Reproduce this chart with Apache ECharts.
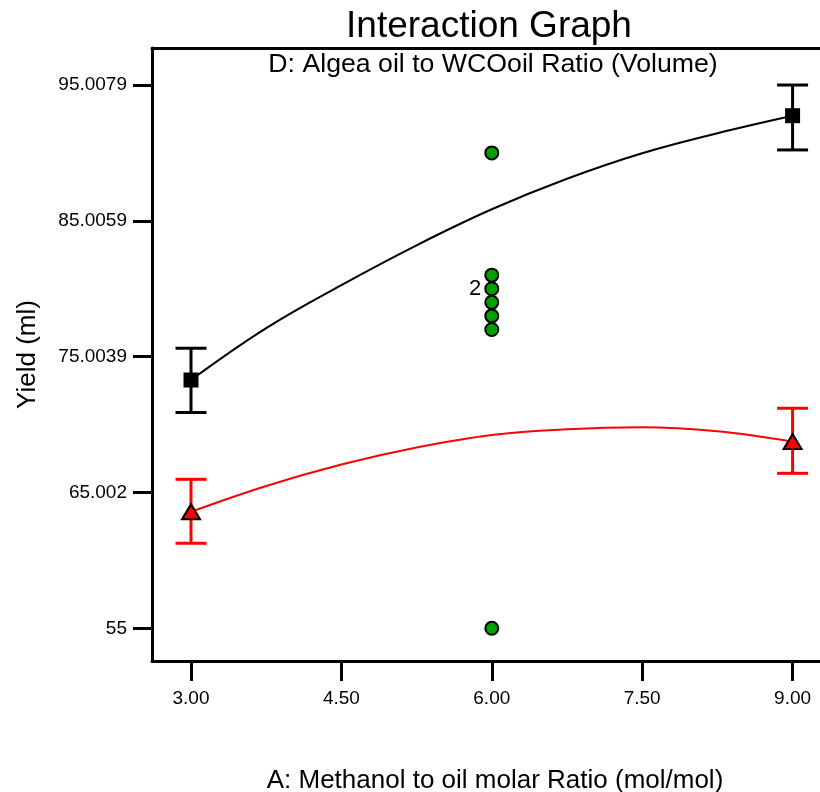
<!DOCTYPE html>
<html><head><meta charset="utf-8">
<script src="https://cdn.jsdelivr.net/npm/echarts@6/dist/echarts.min.js"></script>
<style>html,body{margin:0;padding:0;background:#fff}#c{width:820px;height:792px}</style>
</head><body><div id="c"></div>
<script>
// ---- data ----
const xTickValues = [3, 4.5, 6, 7.5, 9];
const xTickLabels = ['3.00', '4.50', '6.00', '7.50', '9.00'];
const yTickValues = [55, 65.002, 75.0039, 85.0059, 95.0079];
const yTickLabels = ['55', '65.002', '75.0039', '85.0059', '95.0079'];

const curveX = [3, 3.75, 4.5, 5.25, 6, 6.75, 7.5, 8.25, 9];
const curveHighD = [73.28, 77.1, 80.27, 83.2, 85.85, 88.1, 89.98, 91.45, 92.74];
const curveLowD = [63.58, 65.48, 67.06, 68.31, 69.23, 69.65, 69.8, 69.5, 68.74];

const levelX = [3, 9];
const meanHighD = [73.28, 92.74];
const barHighD = [[70.89, 75.62], [90.22, 95.0]];
const meanLowD = [63.58, 68.74];
const barLowD = [[61.26, 65.97], [66.41, 71.2]];

const designX = [6, 6, 6, 6, 6, 6, 6];
const designY = [90, 81, 80, 79, 78, 77, 55];
const designCount = [1, 1, 2, 1, 1, 1, 1];

// ---- chart ----
const FONT = '"Liberation Sans", Arial, sans-serif';
const chart = echarts.init(document.getElementById('c'), null, {renderer: 'canvas'});

function labelFor(values, labels) {
  return function (v) {
    let best = 0, bd = Infinity;
    values.forEach((t, i) => { const d = Math.abs(t - v); if (d < bd) { bd = d; best = i; } });
    return labels[best];
  };
}

function errorBarSeries(levels, bars, color) {
  return {
    type: 'custom',
    z: 3,
    data: levels.map((x, i) => [x, bars[i][0], bars[i][1]]),
    encode: {x: 0, y: [1, 2]},
    renderItem: function (params, api) {
      const x = api.value(0), lo = api.value(1), hi = api.value(2);
      const pLo = api.coord([x, lo]), pHi = api.coord([x, hi]);
      const hw = 15.5;
      const st = {stroke: color, lineWidth: 3};
      return {
        type: 'group',
        children: [
          {type: 'line', shape: {x1: pLo[0], y1: pLo[1], x2: pHi[0], y2: pHi[1]}, style: st},
          {type: 'line', shape: {x1: pLo[0] - hw, y1: pLo[1], x2: pLo[0] + hw, y2: pLo[1]}, style: st},
          {type: 'line', shape: {x1: pHi[0] - hw, y1: pHi[1], x2: pHi[0] + hw, y2: pHi[1]}, style: st}
        ]
      };
    }
  };
}

const option = {
  animation: false,
  backgroundColor: '#fff',
  textStyle: {fontFamily: FONT},
  graphic: [
    {type: 'text', x: 489, y: 27, style: {text: 'Interaction Graph', font: '37px ' + FONT, fill: '#000', textAlign: 'center', textVerticalAlign: 'middle'}},
    {type: 'text', x: 493, y: 65, style: {text: 'D: Algea oil to WCOoil Ratio (Volume)', font: '26.7px ' + FONT, fill: '#000', textAlign: 'center', textVerticalAlign: 'middle'}}
  ],
  grid: {left: 152, top: 48, width: 686, height: 613, containLabel: false, outerBoundsMode: 'none'},
  xAxis: [{
    type: 'value', min: 2.611, max: 9.453, position: 'bottom',
    name: 'A: Methanol to oil molar Ratio (mol/mol)', nameLocation: 'middle', nameGap: 107,
    nameTextStyle: {fontSize: 26, color: '#000', fontFamily: FONT},
    axisLine: {show: true, onZero: false, lineStyle: {color: '#000', width: 3}},
    axisTick: {show: true, customValues: xTickValues, length: 20, lineStyle: {color: '#000', width: 3}},
    axisLabel: {customValues: xTickValues, formatter: labelFor(xTickValues, xTickLabels), fontSize: 19, color: '#000', margin: 28, fontFamily: FONT},
    splitLine: {show: false}
  }, {
    type: 'value', min: 2.611, max: 9.453, position: 'top',
    axisLine: {show: true, onZero: false, lineStyle: {color: '#000', width: 3}},
    axisTick: {show: false}, axisLabel: {show: false}, splitLine: {show: false}
  }],
  yAxis: [{
    type: 'value', min: 52.592, max: 97.725, position: 'left',
    name: 'Yield (ml)', nameLocation: 'middle', nameGap: 111,
    nameTextStyle: {fontSize: 26, color: '#000', fontFamily: FONT},
    axisLine: {show: true, onZero: false, lineStyle: {color: '#000', width: 3}},
    axisTick: {show: true, customValues: yTickValues, length: 19, lineStyle: {color: '#000', width: 3}},
    axisLabel: {customValues: yTickValues, formatter: labelFor(yTickValues, yTickLabels), fontSize: 19, color: '#000', margin: 25, fontFamily: FONT},
    splitLine: {show: false}
  }],
  series: [
    {type: 'line', z: 2, data: curveX.map((x, i) => [x, curveHighD[i]]), smooth: 0.4, showSymbol: false,
      lineStyle: {color: '#000', width: 2}},
    {type: 'line', z: 2, data: curveX.map((x, i) => [x, curveLowD[i]]), smooth: 0.4, showSymbol: false,
      lineStyle: {color: '#ff0000', width: 2}},
    errorBarSeries(levelX, barHighD, '#000'),
    errorBarSeries(levelX, barLowD, '#ff0000'),
    {type: 'scatter', z: 4, symbol: 'rect', symbolSize: 15, data: levelX.map((x, i) => [x, meanHighD[i]]),
      itemStyle: {color: '#000', opacity: 1}},
    {type: 'scatter', z: 4, symbol: 'triangle', symbolSize: [18, 15], data: levelX.map((x, i) => [x, meanLowD[i]]),
      itemStyle: {color: '#ff0000', borderColor: '#000', borderWidth: 2, opacity: 1}},
    {type: 'scatter', z: 5, symbol: 'circle', symbolSize: 13,
      itemStyle: {color: '#00a000', borderColor: '#000', borderWidth: 2, opacity: 1},
      data: designX.map((x, i) => {
        const d = {value: [x, designY[i]]};
        if (designCount[i] > 1) {
          d.label = {show: true, position: 'left', distance: 3, formatter: String(designCount[i]), fontSize: 22, color: '#000', fontFamily: FONT};
        }
        return d;
      })}
  ]
};
chart.setOption(option);
</script>
</body></html>
